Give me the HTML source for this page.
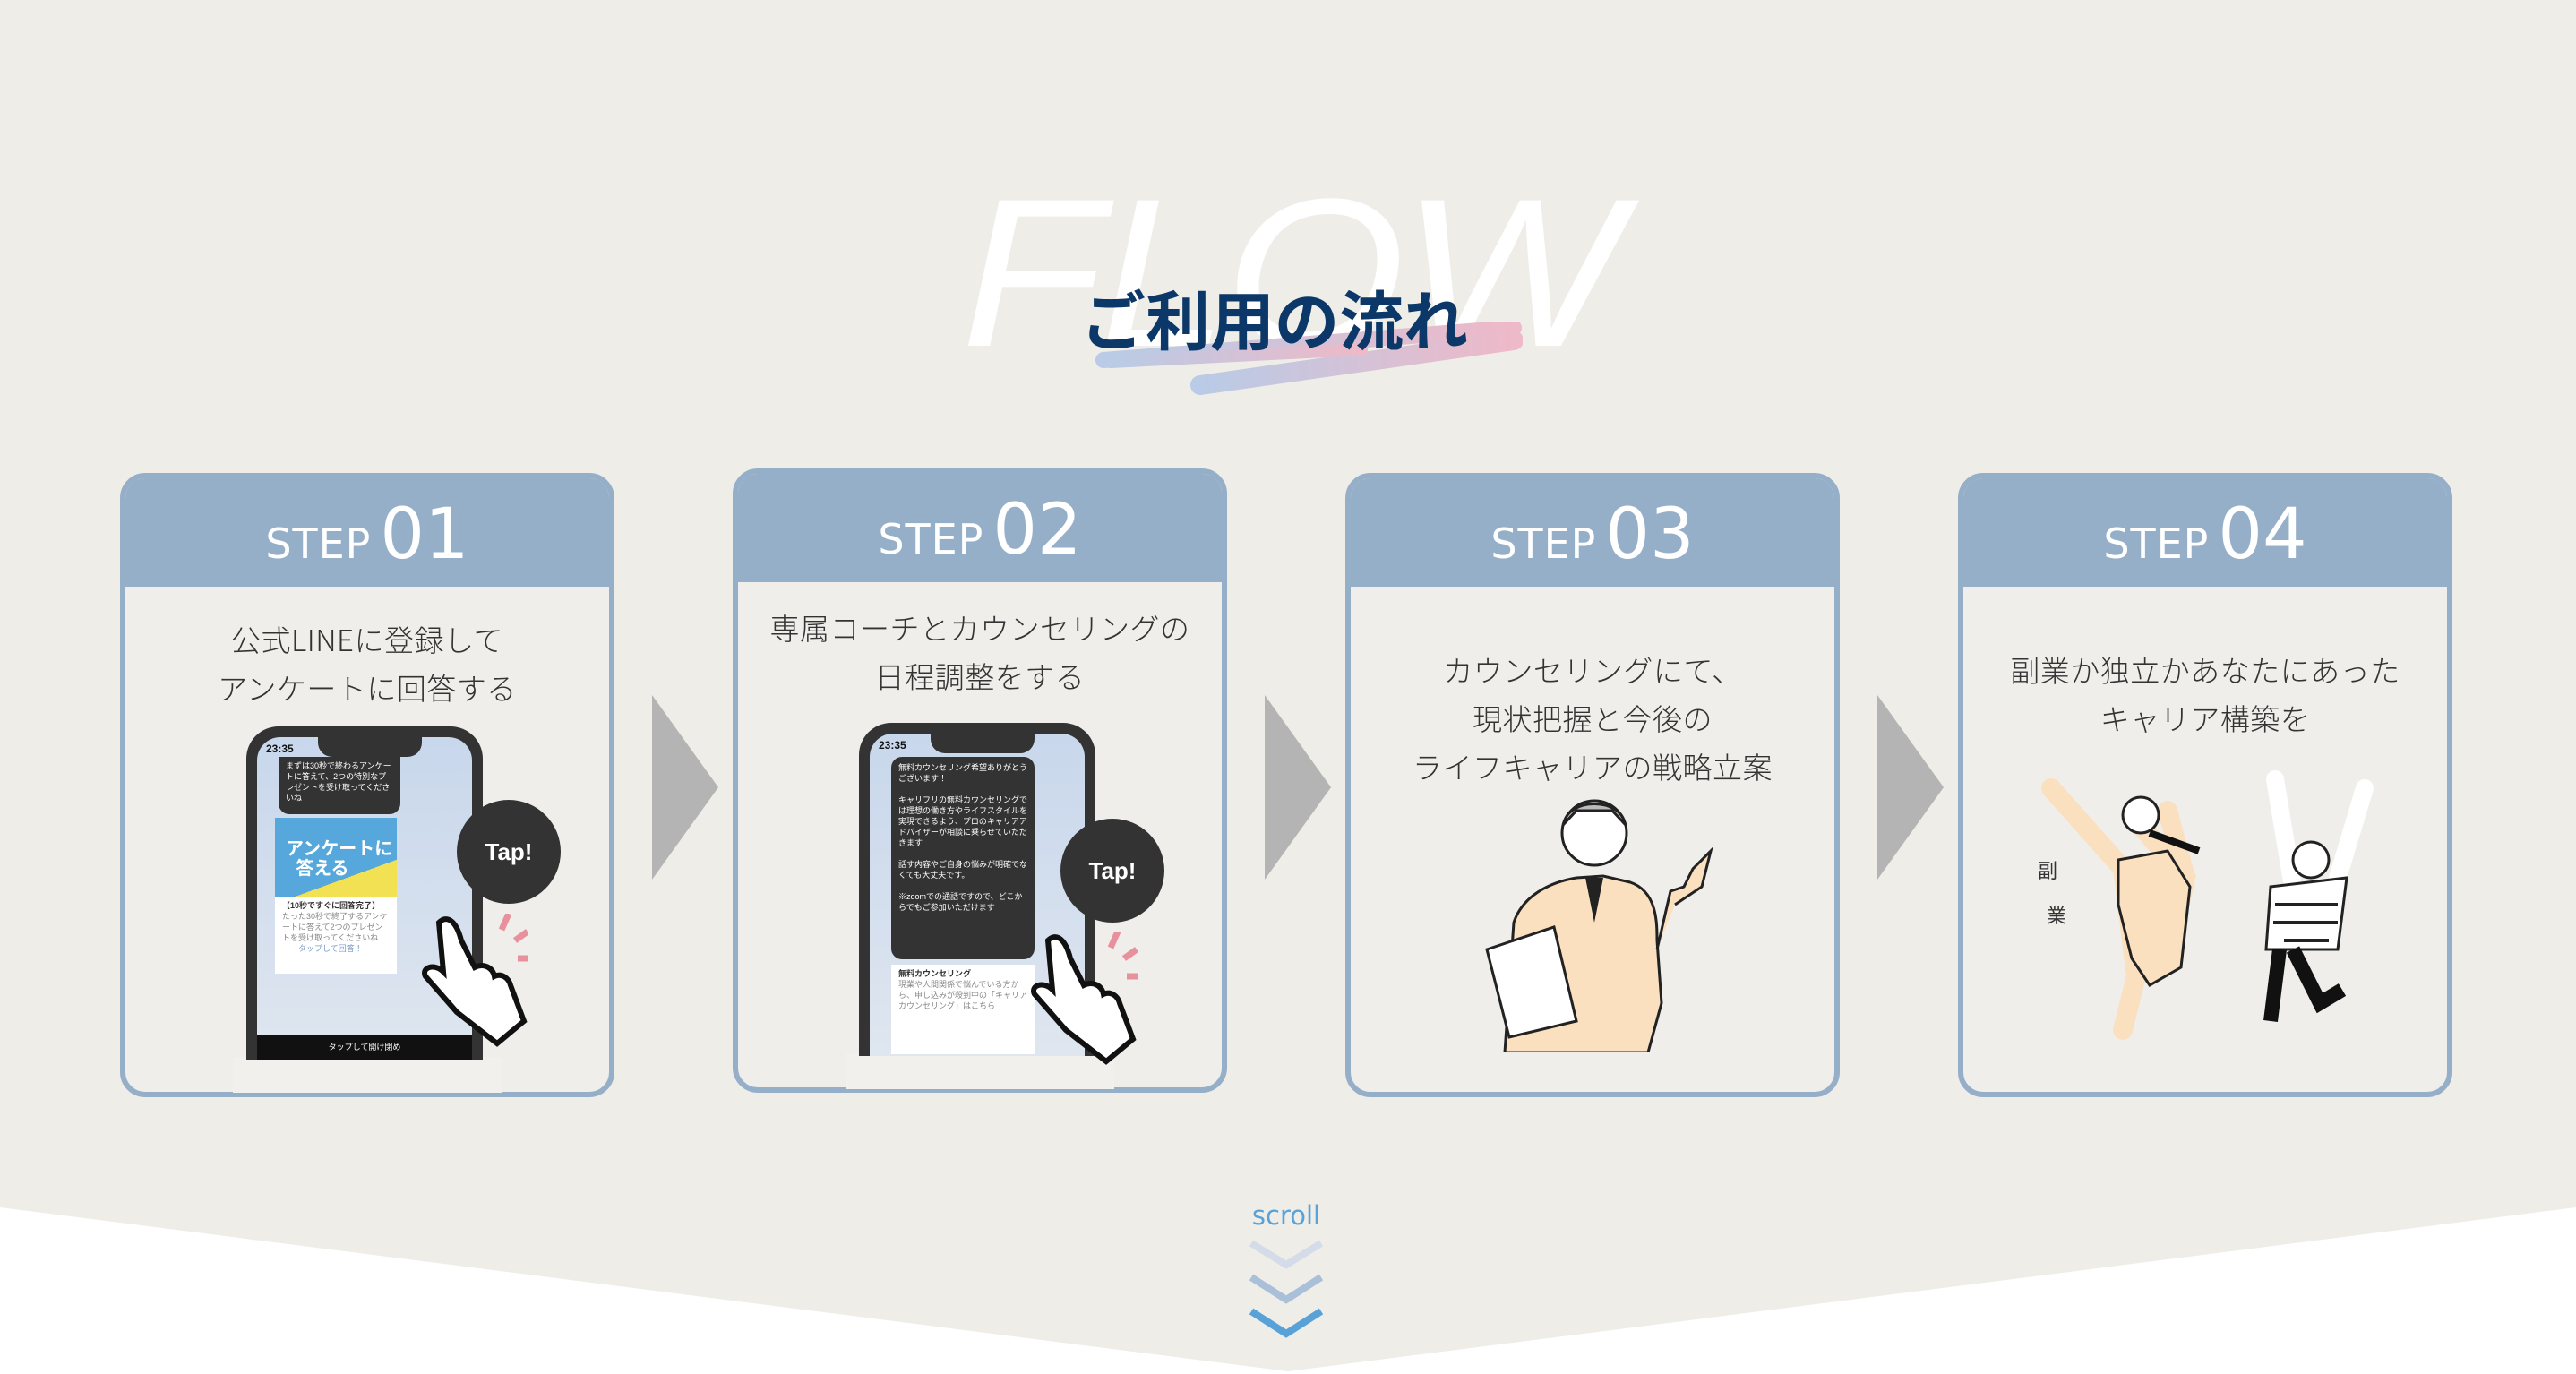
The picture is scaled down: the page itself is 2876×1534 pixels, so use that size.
<!DOCTYPE html>
<html><head><meta charset="utf-8"><style>
*{margin:0;padding:0;box-sizing:border-box}
body{width:2876px;height:1534px;background:#efede8;position:relative;overflow:hidden;font-family:"Liberation Sans","Noto Sans CJK JP",sans-serif}
.abs{position:absolute}
.card{position:absolute;width:552px;height:697px;border:6px solid #96afc9;border-radius:28px;background:#efeeea;overflow:hidden}
.hd{height:121px;background:#96afc9;color:#fff;text-align:center;font-family:"DejaVu Sans","Liberation Sans",sans-serif;white-space:nowrap;padding-top:18px}
.hd .s{font-size:46px;letter-spacing:1px}
.hd .n{font-size:78px;margin-left:10px}
.tx{position:absolute;left:0;right:0;text-align:center;font-size:33px;color:#333;line-height:54px;letter-spacing:0.5px;font-family:"Noto Sans CJK JP",sans-serif;font-weight:300}
.arr{position:absolute;width:0;height:0;border-top:103px solid transparent;border-bottom:103px solid transparent;border-left:74px solid #b3b4b3}
.phone{position:absolute;width:264px;height:372px;background:#333;border-radius:36px 36px 0 0;padding:12px 12px 0 12px}
.scr{width:100%;height:100%;background:linear-gradient(#c8d7ec,#dfe6ef);border-radius:26px 26px 0 0;position:relative;overflow:hidden;font-size:9px;color:#fff}
.notch{position:absolute;left:68px;top:0;width:116px;height:22px;background:#333;border-radius:0 0 16px 16px}
.bub{position:absolute;width:116px;height:116px;border-radius:50%;background:#333;color:#fff;font-weight:bold;font-size:26px;text-align:center;line-height:116px}
</style></head><body>

<div class="abs" style="left:1073px;top:170px;font-size:236px;font-style:italic;color:#fff;font-family:'Liberation Sans',sans-serif;letter-spacing:-4px;line-height:270px;transform:scaleX(1.1);transform-origin:left top">FLOW</div>
<svg class="abs" style="left:1220px;top:360px" width="480" height="110">
<defs><linearGradient id="g" x1="0" x2="1"><stop offset="0" stop-color="#b9cbe6"/><stop offset="1" stop-color="#eeb9c8"/></linearGradient></defs>
<path d="M12,42 L470,6" stroke="url(#g)" stroke-width="18" stroke-linecap="round"/>
<path d="M120,70 L470,20" stroke="url(#g)" stroke-width="22" stroke-linecap="round"/>
<path d="M300,30 L20,44" stroke="url(#g)" stroke-width="14" stroke-linecap="round"/>
</svg>
<div class="abs" style="left:1207px;top:306px;font-size:72px;font-weight:bold;color:#0b3868;font-family:'Noto Sans CJK JP',sans-serif;letter-spacing:0px;line-height:96px">ご利用の流れ</div>

<!-- Cards -->
<div class="card" style="left:134px;top:528px"><div class="hd"><span class="s">STEP</span><span class="n">01</span></div>
<div class="tx" style="top:152px">公式LINEに登録して<br>アンケートに回答する</div></div>
<div class="card" style="left:818px;top:523px"><div class="hd"><span class="s">STEP</span><span class="n">02</span></div>
<div class="tx" style="top:144px">専属コーチとカウンセリングの<br>日程調整をする</div></div>
<div class="card" style="left:1502px;top:528px"><div class="hd"><span class="s">STEP</span><span class="n">03</span></div>
<div class="tx" style="top:186px">カウンセリングにて、<br>現状把握と今後の<br>ライフキャリアの戦略立案</div></div>
<div class="card" style="left:2186px;top:528px"><div class="hd"><span class="s">STEP</span><span class="n">04</span></div>
<div class="tx" style="top:186px">副業か独立かあなたにあった<br>キャリア構築を</div></div>

<div class="arr" style="left:728px;top:776px"></div>
<div class="arr" style="left:1412px;top:776px"></div>
<div class="arr" style="left:2096px;top:776px"></div>

<!-- phone 1 -->
<div class="abs" style="left:260px;top:1180px;width:300px;height:40px;background:#f2f0ed"></div>
<div class="phone" style="left:275px;top:811px"><div class="scr">
<div style="position:absolute;left:10px;top:6px;color:#111;font-size:12px;font-weight:bold">23:35</div>
<div class="notch"></div>
<div style="position:absolute;left:24px;top:22px;width:136px;height:64px;background:#333;border-radius:0 0 12px 12px;padding:4px 8px;line-height:12px">まずは30秒で終わるアンケートに答えて、2つの特別なプレゼントを受け取ってくださいね</div>
<div style="position:absolute;left:20px;top:90px;width:136px;height:88px;background:linear-gradient(160deg,#56a8dc 70%,#f2e253 70%)"><div style="color:#fff;font-size:20px;font-weight:bold;padding:24px 0 0 12px;line-height:22px">アンケートに<br>&nbsp;&nbsp;答える</div></div>
<div style="position:absolute;left:20px;top:178px;width:136px;height:86px;background:#fff;color:#333;padding:4px 8px;line-height:12px"><b>【10秒ですぐに回答完了】</b><br><span style="color:#888">たった30秒で終了するアンケートに答えて2つのプレゼントを受け取ってくださいね</span><br><span style="color:#7a9cc9">　　タップして回答！</span></div>
<div style="position:absolute;left:0;bottom:0;width:100%;height:28px;background:#111;text-align:center;line-height:28px">タップして開け閉め</div>
</div></div>
<div class="bub" style="left:510px;top:893px">Tap!</div>
<svg class="abs" style="left:460px;top:1020px" width="130" height="150"><path d="M30,10 C40,0 50,10 55,30 L70,60 C80,55 90,60 92,70 C100,66 108,72 110,80 L125,120 L95,145 L50,110 L15,70 C10,60 25,55 35,65 Z" fill="#fff" stroke="#111" stroke-width="6"/><path d="M100,18 l8,-18 M115,30 l14,-10 M118,50 l14,0" stroke="#e8909c" stroke-width="7"/></svg>

<!-- phone 2 -->
<div class="abs" style="left:944px;top:1176px;width:300px;height:40px;background:#f2f0ed"></div>
<div class="phone" style="left:959px;top:807px"><div class="scr">
<div style="position:absolute;left:10px;top:6px;color:#111;font-size:12px;font-weight:bold">23:35</div>
<div class="notch"></div>
<div style="position:absolute;left:24px;top:26px;width:160px;height:226px;background:#333;border-radius:12px;padding:6px 8px;line-height:12px">無料カウンセリング希望ありがとうございます！<br><br>キャリフリの無料カウンセリングでは理想の働き方やライフスタイルを実現できるよう、プロのキャリアアドバイザーが相談に乗らせていただきます<br><br>話す内容やご自身の悩みが明確でなくても大丈夫です。<br><br>※zoomでの通話ですので、どこからでもご参加いただけます</div>
<div style="position:absolute;left:24px;top:258px;width:160px;height:100px;background:#fff;color:#333;padding:4px 8px;line-height:12px"><b>無料カウンセリング</b><br><span style="color:#888">現業や人間関係で悩んでいる方から、申し込みが殺到中の「キャリアカウンセリング」はこちら</span></div>
</div></div>
<div class="bub" style="left:1184px;top:914px">Tap!</div>
<svg class="abs" style="left:1140px;top:1040px" width="130" height="150"><path d="M30,10 C40,0 50,10 55,30 L70,60 C80,55 90,60 92,70 C100,66 108,72 110,80 L125,120 L95,145 L50,110 L15,70 C10,60 25,55 35,65 Z" fill="#fff" stroke="#111" stroke-width="6"/><path d="M100,18 l8,-18 M115,30 l14,-10 M118,50 l14,0" stroke="#e8909c" stroke-width="7"/></svg>

<!-- illustration 3 -->
<svg class="abs" style="left:1650px;top:890px" width="270" height="285">
<path d="M30,285 L40,140 C50,110 80,95 110,90 L140,88 L170,95 C200,105 200,140 200,160 L205,230 L190,285 Z" fill="#fbe0c0" stroke="#222" stroke-width="3"/>
<path d="M200,170 L215,105 L230,100 L240,80 L260,60 L250,100 L220,120" fill="#fbe0c0" stroke="#222" stroke-width="3"/>
<path d="M120,90 L130,140 L140,90 Z" fill="#222"/>
<circle cx="130" cy="40" r="36" fill="#fff" stroke="#222" stroke-width="3"/>
<path d="M96,30 C100,0 160,0 164,30 L150,15 L110,15 Z" fill="#bbb" stroke="#222" stroke-width="3"/>
<path d="M10,170 L85,145 L110,250 L35,268 Z" fill="#fff" stroke="#222" stroke-width="3"/>
</svg>

<!-- illustration 4 -->
<svg class="abs" style="left:2270px;top:850px" width="440" height="320">
<path d="M20,30 L100,120 L115,240 L100,300 M115,240 L150,220 L170,130 L140,95 L110,60 M170,130 L150,55" stroke="#fbe0c0" stroke-width="22" fill="none" stroke-linecap="round"/>
<path d="M95,110 L150,100 L175,140 L165,230 L130,250 L110,220 L95,160 Z" fill="#fbe0c0" stroke="#222" stroke-width="3"/>
<circle cx="120" cy="60" r="20" fill="#fff" stroke="#222" stroke-width="3"/>
<path d="M130,80 L185,100" stroke="#111" stroke-width="8"/>
<path d="M270,20 L290,140 L270,190 M370,30 L340,130" stroke="#fff" stroke-width="20" fill="none" stroke-linecap="round"/>
<path d="M265,140 L350,130 L340,210 L260,210 Z" fill="#fff" stroke="#222" stroke-width="3"/>
<path d="M270,160 L340,160 M268,180 L340,180 M280,200 L330,200" stroke="#222" stroke-width="4"/>
<circle cx="310" cy="110" r="20" fill="#fff" stroke="#222" stroke-width="3"/>
<path d="M275,210 L265,290 M290,210 L320,270 L345,255" stroke="#111" stroke-width="16" fill="none"/>
<text x="5" y="130" font-size="22" fill="#333" font-family="Noto Sans CJK JP">副</text>
<text x="15" y="180" font-size="22" fill="#333" font-family="Noto Sans CJK JP">業</text>
</svg>

<!-- bottom -->
<svg class="abs" style="left:0;top:0" width="2876" height="1534"><polygon points="0,1348 1438,1531 2876,1348 2876,1534 0,1534" fill="#fff"/>
<polyline points="1397,1388 1436,1412 1475,1388" stroke="#d3dce8" stroke-width="8" fill="none"/>
<polyline points="1397,1426 1436,1451 1475,1426" stroke="#a9c0d8" stroke-width="8" fill="none"/>
<polyline points="1397,1464 1436,1489 1475,1464" stroke="#58a2d8" stroke-width="8" fill="none"/>
</svg>
<div class="abs" style="left:1376px;top:1340px;width:120px;text-align:center;font-size:29px;color:#58a2d8;font-family:'DejaVu Sans',sans-serif">scroll</div>
</body></html>
